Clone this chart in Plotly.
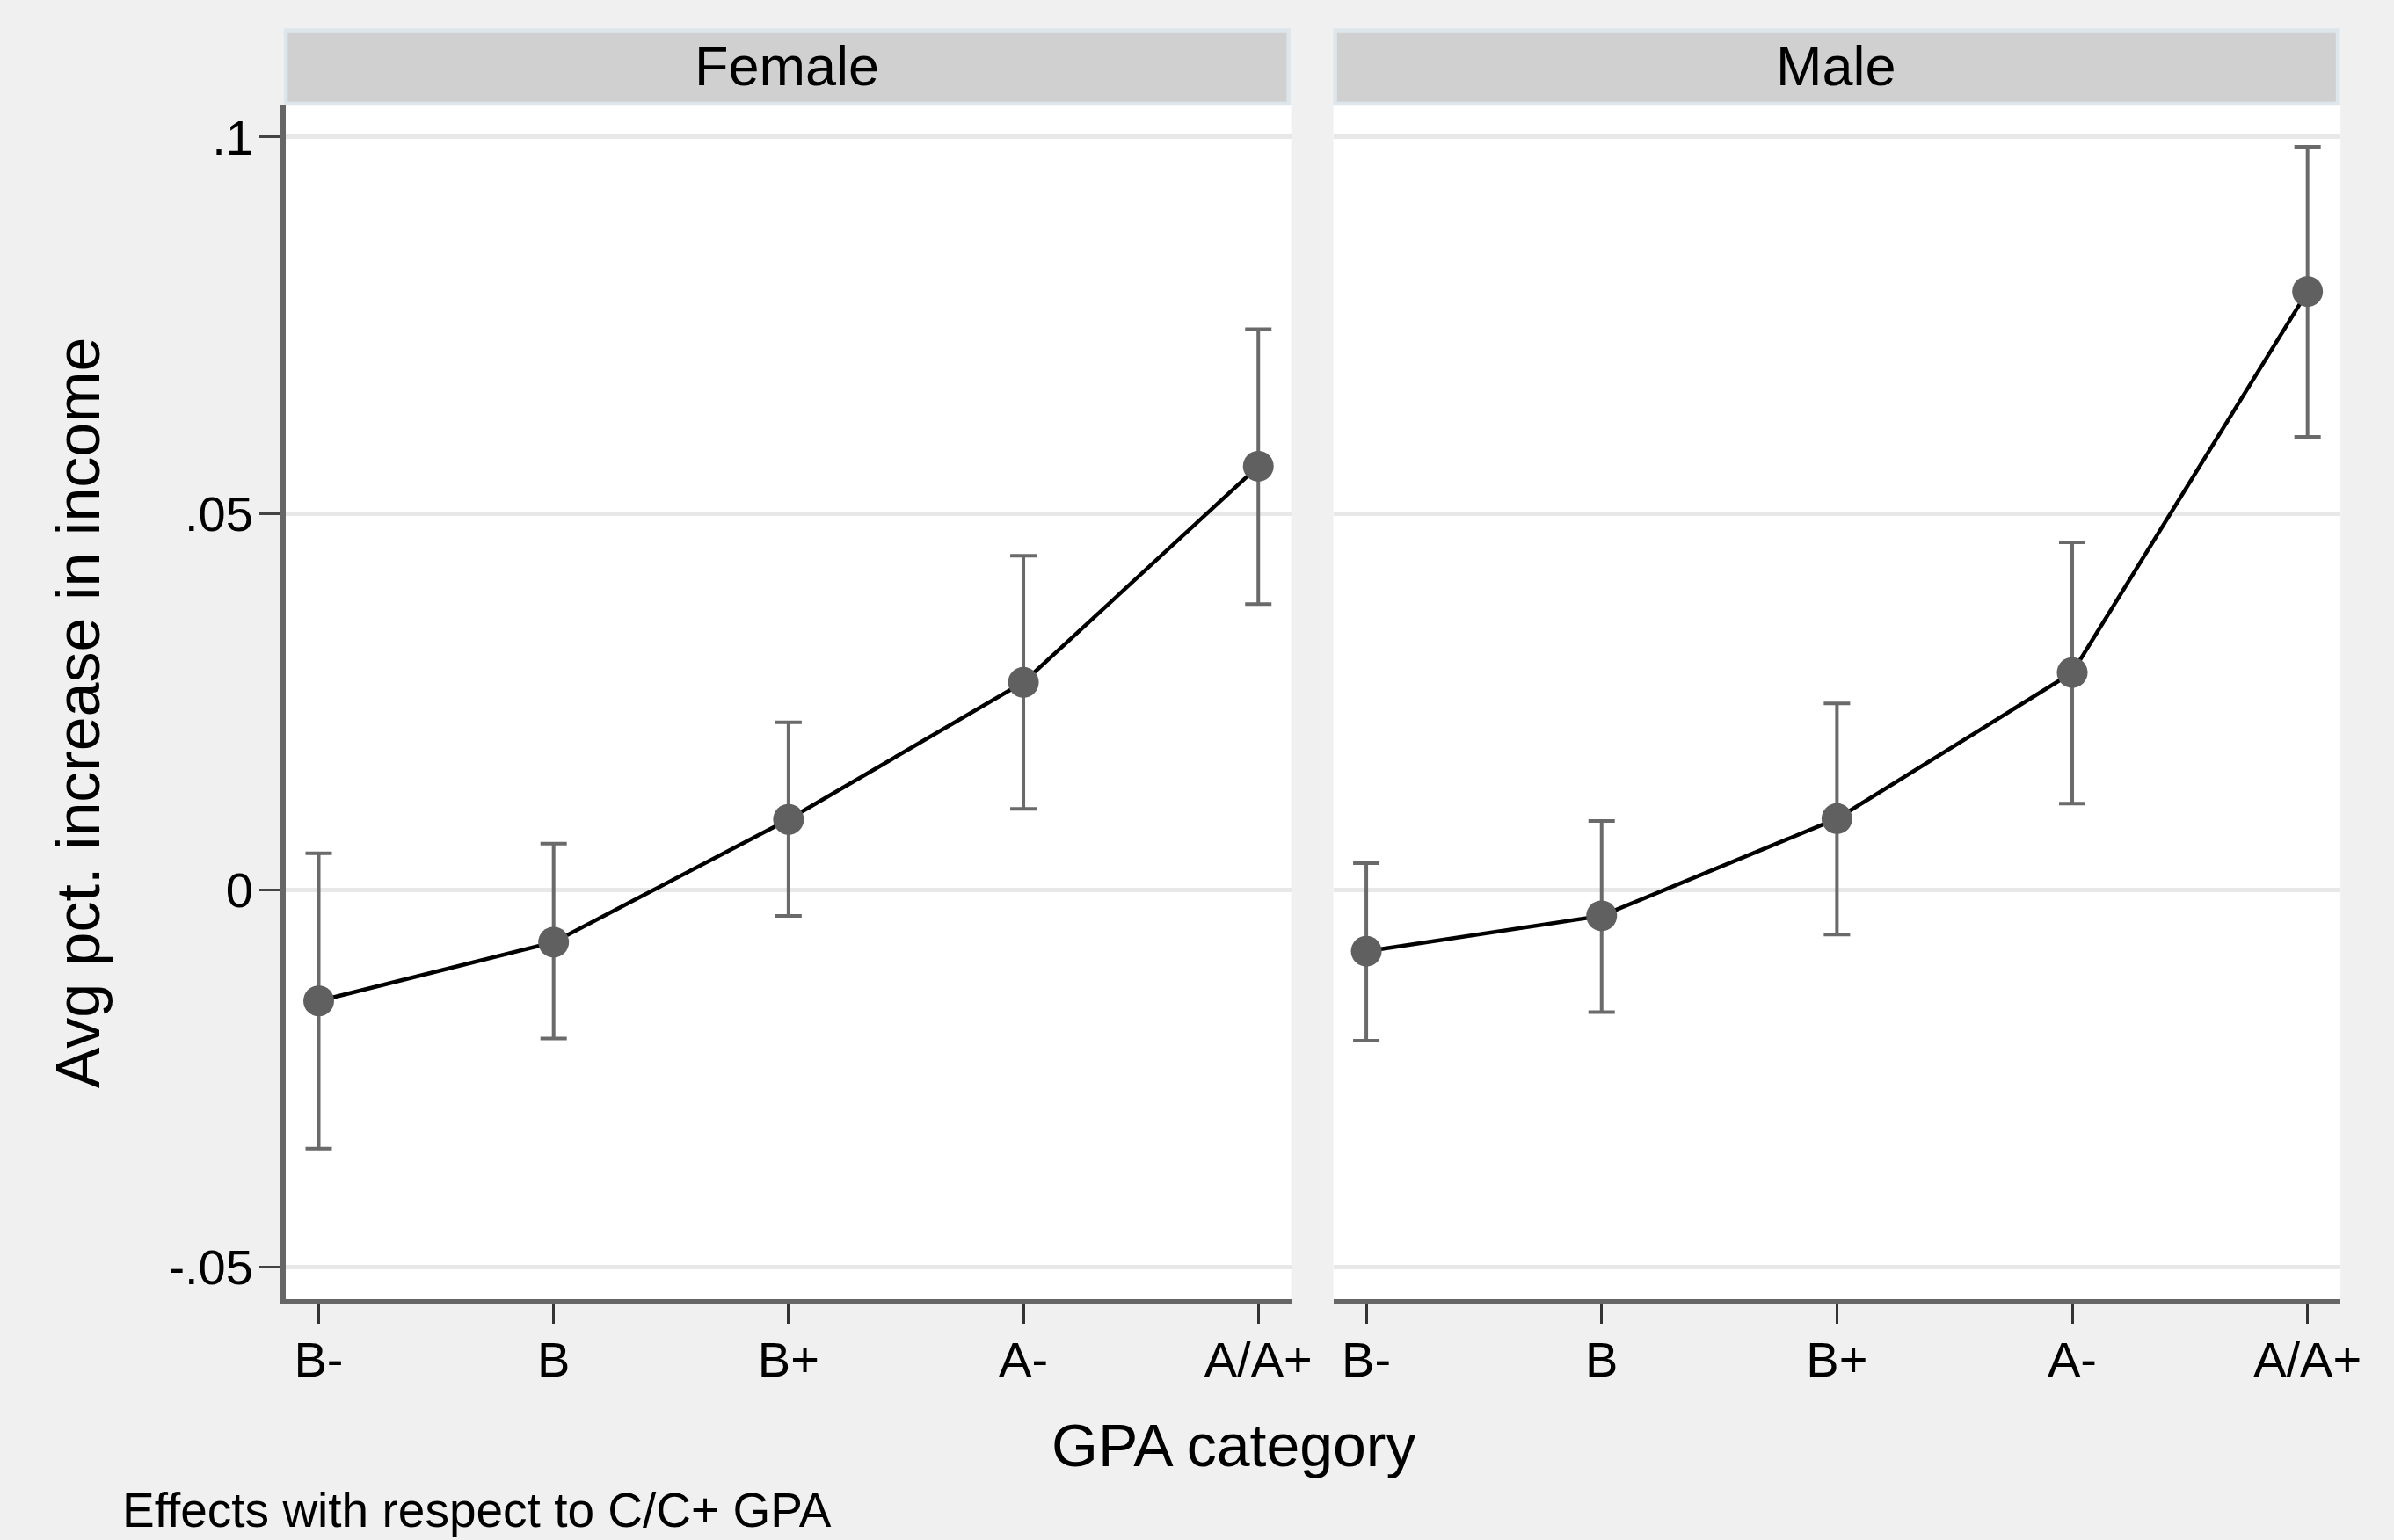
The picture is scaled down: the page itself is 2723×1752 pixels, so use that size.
import plotly.graph_objects as go

categories = ["B-", "B", "B+", "A-", "A/A+"]
panels = ["Female", "Male"]

female_est = [-0.0147, -0.0069, 0.0094, 0.0276, 0.0563]
female_hi = [0.0049, 0.0062, 0.0223, 0.0444, 0.0745]
female_lo = [-0.0343, -0.0197, -0.0034, 0.0108, 0.0380]

male_est = [-0.0081, -0.0034, 0.0095, 0.0289, 0.0795]
male_hi = [0.0036, 0.0092, 0.0248, 0.0462, 0.0987]
male_lo = [-0.0200, -0.0162, -0.0059, 0.0115, 0.0602]

y_ticks = [-0.05, 0, 0.05, 0.1]
y_tick_labels = ["-.05", "0", ".05", ".1"]

W, H = 2723, 1752
FONT = "Liberation Sans, Arial, sans-serif"

def px_x(p):
    # small horizontal correction observed in the rendered capture
    return (1.00848 * p + 3.26) / W

def px_y(p):
    return 1 - p / H

fig = go.Figure()

series = [(female_est, female_hi, female_lo, "x", "y"),
          (male_est, male_hi, male_lo, "x2", "y2")]
xpos = list(range(len(categories)))
for est, hi, lo, xa, ya in series:
    fig.add_trace(go.Scatter(
        x=xpos, y=est, xaxis=xa, yaxis=ya, mode="lines+markers",
        line=dict(color="black", width=4.5),
        marker=dict(color="#606060", size=35, line=dict(width=0)),
        error_y=dict(type="data", symmetric=False,
                     array=[h - e for h, e in zip(hi, est)],
                     arrayminus=[e - l for e, l in zip(est, lo)],
                     color="#6a6a6a", thickness=4, width=15),
        showlegend=False, hoverinfo="skip"))

xr = [-0.14, 4.14]
yr = [-0.0543, 0.1042]
common_x = dict(range=xr, tickmode="array", tickvals=xpos, ticktext=categories,
                ticks="outside", ticklen=22, tickwidth=2.5, tickcolor="#333333",
                showline=True, linewidth=6, linecolor="#666666", mirror=False,
                showgrid=False, zeroline=False,
                tickfont=dict(family=FONT, size=56, color="black"),
                ticklabelstandoff=-7, fixedrange=True)
fig.update_layout(
    width=W, height=H,
    margin=dict(l=0, r=0, t=0, b=0),
    paper_bgcolor="#f0f0f0", plot_bgcolor="white",
    xaxis=dict(domain=[px_x(322), px_x(1466)], anchor="y", **common_x),
    xaxis2=dict(domain=[px_x(1514), px_x(2660)], anchor="y2", **common_x),
    yaxis=dict(domain=[px_y(1478), px_y(120)], anchor="x", range=yr,
               tickmode="array", tickvals=y_ticks, ticktext=y_tick_labels,
               ticks="outside", ticklen=24, tickwidth=3, tickcolor="#444444",
               showline=True, linewidth=6, linecolor="#666666",
               showgrid=True, gridcolor="#e8e8e8", gridwidth=5, zeroline=False,
               tickfont=dict(family=FONT, size=56, color="black"),
               ticklabelstandoff=-4, fixedrange=True),
    yaxis2=dict(domain=[px_y(1478), px_y(120)], anchor="x2", range=yr,
                tickmode="array", tickvals=y_ticks, showticklabels=False,
                ticks="", showline=False,
                showgrid=True, gridcolor="#e8e8e8", gridwidth=5, zeroline=False,
                fixedrange=True),
)

# facet strips
strips = [(322, 1463, panels[0]), (1516, 2657, panels[1])]
for x0, x1, label in strips:
    fig.add_shape(type="rect", xref="paper", yref="paper",
                  x0=px_x(x0), x1=px_x(x1), y0=px_y(118), y1=px_y(34.5),
                  fillcolor="#d0d0d0", line=dict(color="#dde6eb", width=4.5),
                  layer="below")
    fig.add_annotation(xref="paper", yref="paper", x=px_x((x0 + x1) / 2), y=px_y(75.5),
                       text=label, showarrow=False, xanchor="center", yanchor="middle",
                       font=dict(family=FONT, size=63, color="black"))

fig.add_annotation(xref="paper", yref="paper", x=px_x(86), y=px_y(811),
                   text="Avg pct. increase in income", textangle=-90, showarrow=False,
                   xanchor="center", yanchor="middle",
                   font=dict(family=FONT, size=70, color="black"))
fig.add_annotation(xref="paper", yref="paper", x=px_x(1401), y=px_y(1644),
                   text="GPA category", showarrow=False,
                   xanchor="center", yanchor="middle",
                   font=dict(family=FONT, size=68, color="black"))
fig.add_annotation(xref="paper", yref="paper", x=px_x(134), y=px_y(1718),
                   text="Effects with respect to C/C+ GPA", showarrow=False,
                   xanchor="left", yanchor="middle",
                   font=dict(family=FONT, size=55, color="black"))

fig.write_html("out.html", config={"displayModeBar": False},
               post_script="document.body.style.margin='0';document.body.style.overflow='hidden';")
